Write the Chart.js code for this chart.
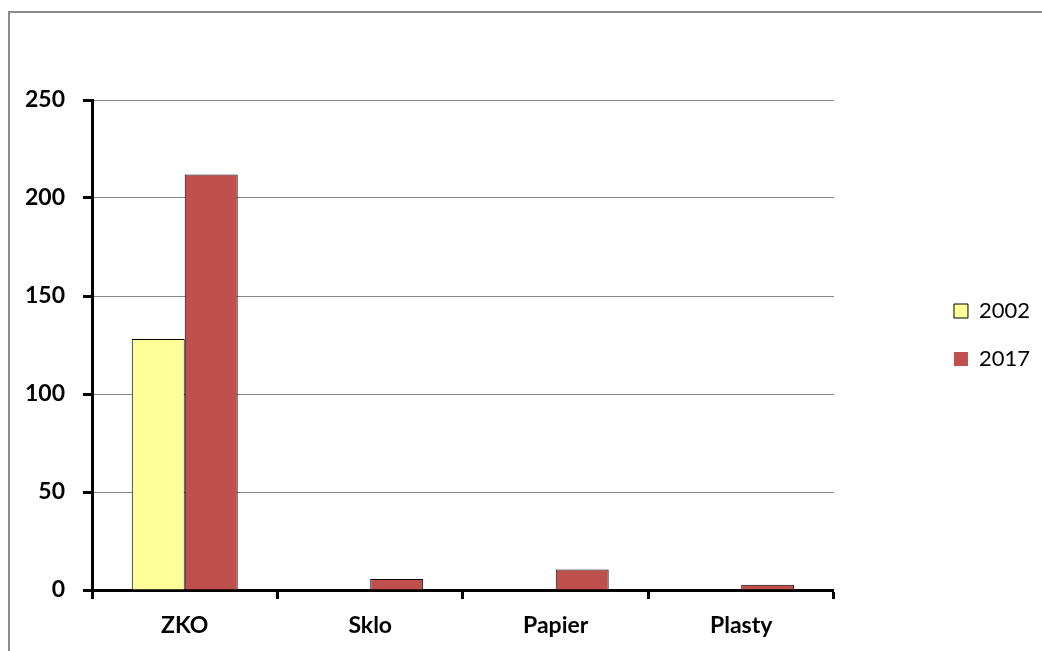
<!DOCTYPE html>
<html>
<head>
<meta charset="utf-8">
<script src="https://cdn.jsdelivr.net/npm/chart.js@4.4.1/dist/chart.umd.min.js"></script>
<style>
    html, body { margin: 0; padding: 0; background: #fff; }
    #wrap { position: relative; width: 1042px; height: 651px; }
    #frame { position: absolute; left: 8px; top: 11px; right: 0; bottom: 0;
             border-left: 2px solid #8c8c8c; border-top: 2px solid #8c8c8c; }
    canvas { position: absolute; left: 0; top: 0; }
</style>
</head>
<body>
<div id="wrap">
    <div id="frame"></div>
    <canvas id="wasteChart" width="1042" height="651"></canvas>
</div>
<script>
// categories and series
const categories = ["ZKO", "Sklo", "Papier", "Plasty"];
const values2002 = [128, 0, 0, 0];
const values2017 = [212, 5.6, 10.4, 2.7];
const yTicks = [0, 50, 100, 150, 200, 250];

const fontName = "Lato, 'Open Sans', sans-serif";

document.addEventListener("DOMContentLoaded", function () {
    const ctx = document.getElementById("wasteChart").getContext("2d");

    new Chart(ctx, {
        type: "bar",
        data: {
            labels: categories,
            datasets: [
                {
                    label: "2002",
                    data: values2002,
                    backgroundColor: "#FFFF99",
                    borderColor: "#000",
                    borderWidth: 1
                },
                {
                    label: "2017",
                    data: values2017,
                    backgroundColor: "#C0504D",
                    borderColor: "#000",
                    borderWidth: 1
                }
            ]
        },
        options: {
            responsive: false,
            animation: false,
            devicePixelRatio: 1,
            categoryPercentage: 0.571,
            barPercentage: 1,
            layout: { padding: { left: 0, top: 100, right: 2, bottom: 0 } },
            plugins: {
                tooltip: { enabled: false },
                legend: {
                    position: "right",
                    align: "start",
                    fullSize: false,
                    title: { display: true, text: "", font: { size: 10 }, padding: { top: 162, bottom: 0 } },
                    labels: {
                        color: "#000",
                        font: { family: fontName, size: 22 },
                        boxWidth: 14,
                        boxHeight: 14,
                        padding: 26,
                        generateLabels: function (chart) {
                            const items = Chart.defaults.plugins.legend.labels.generateLabels(chart);
                            items[1].lineWidth = 0; // 2017 key has no outline
                            return items;
                        }
                    }
                }
            },
            scales: {
                x: {
                    grid: {
                        offset: true,
                        drawOnChartArea: false,
                        tickLength: 9,
                        tickWidth: 3,
                        tickColor: "#000"
                    },
                    border: { color: "#000", width: 3 },
                    ticks: {
                        color: "#000",
                        padding: 13,
                        font: { family: fontName, size: 23, weight: "bold" }
                    },
                    afterFit: function (scale) { scale.height = 61; }
                },
                y: {
                    min: 0,
                    max: 250,
                    afterBuildTicks: function (scale) {
                        scale.ticks = yTicks.map(v => ({ value: v }));
                    },
                    grid: {
                        color: "#878787",
                        lineWidth: 1,
                        tickLength: 9,
                        tickWidth: 3,
                        tickColor: "#000"
                    },
                    border: { color: "#000", width: 3 },
                    ticks: {
                        color: "#000",
                        padding: 18,
                        font: { family: fontName, size: 23, weight: "bold" }
                    },
                    afterFit: function (scale) { scale.width = 92; }
                },
                gap: {
                    // empty spacer between plot and legend
                    position: "right",
                    display: true,
                    grid: { display: false },
                    border: { display: false },
                    ticks: { display: false },
                    afterFit: function (scale) { scale.width = 94; }
                }
            }
        }
    });
});
</script>
</body>
</html>
